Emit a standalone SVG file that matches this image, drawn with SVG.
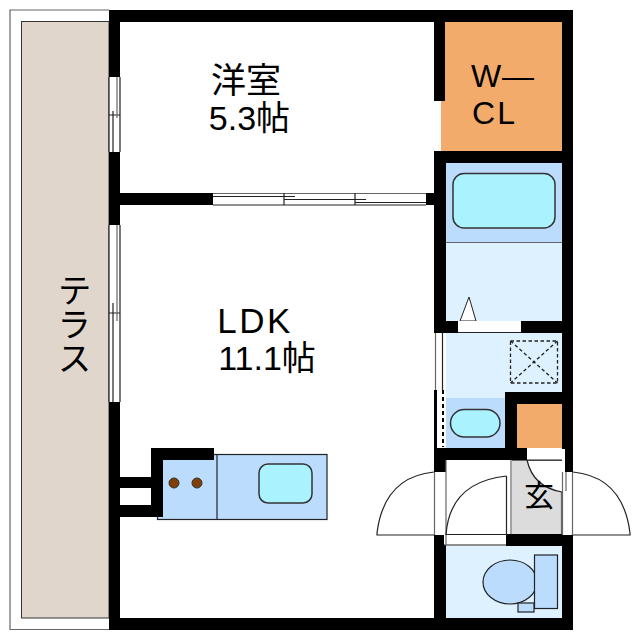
<svg xmlns="http://www.w3.org/2000/svg" width="640" height="640" viewBox="0 0 640 640">
<style>
.t{font-family:"Liberation Sans","Noto Sans CJK JP",sans-serif;font-size:35px;fill:#000;text-anchor:middle}
.w{fill:#000}
.l{fill:none;stroke:#222;stroke-width:1.2}
.g{fill:none;stroke:#666;stroke-width:1.2}
.blue{fill:#bbdcfd;stroke:#222;stroke-width:1.200}
.flat{fill:#bbdcfd}
.pale{fill:#ddf1fe}
.sink{fill:#a9f2fe;stroke:#333;stroke-width:1.5}
.orange{fill:#f2ab6b}
.open{fill:#fff}
</style>
<rect width="640" height="640" fill="#fff"/>
<g id="terrace">
<path d="M109 10H10V629.500H109" class="g"/>
<rect x="21.500" y="21.500" width="87.500" height="596.500" fill="#e0d6cc" stroke="#333" stroke-width="1"/>
<text class="t" x="72" y="273" style="writing-mode:vertical-rl;text-anchor:start;font-size:34px">テラス</text>
</g>
<g id="wic">
<path class="orange" d="M445 22H562V151H441V100H445Z"/>
<text class="t" x="503" y="86.500" style="font-family:'Liberation Sans',sans-serif;font-size:32px" letter-spacing="1">W—</text>
<text class="t" x="494.500" y="123.500" style="font-family:'Liberation Sans',sans-serif;font-size:32px" letter-spacing="2">CL</text>
</g>
<g id="bath">
<rect class="pale" x="446" y="242" width="116" height="79"/>
<rect class="flat" x="446" y="163" width="116" height="79"/>
<path class="g" d="M446 242.500H562"/>
<rect class="sink" x="453" y="173.500" width="102" height="54.500" rx="11"/>
<path d="M469 297L460 321H476Z" fill="#fff" stroke="#222"/>
</g>
<g id="wash">
<rect class="pale" x="446" y="333" width="116" height="59"/>
<rect class="pale" x="446" y="392" width="59" height="6"/>
<rect class="flat" x="446" y="398" width="59" height="50"/>
<rect class="sink" x="450.500" y="409.500" width="49.500" height="27.500" rx="13.700"/>
<g fill="none" stroke="#222" stroke-width="1.300" stroke-dasharray="3.500 2.500">
<rect x="510.500" y="341" width="47" height="42"/>
<path d="M510.500 341L557.500 383M557.500 341L510.500 383"/>
</g>
</g>
<g id="storage"><rect class="orange" x="517" y="404" width="45" height="44"/></g>
<g id="toilet">
<rect class="pale" x="446" y="546" width="116" height="72"/>
<ellipse class="blue" cx="510" cy="582" rx="27" ry="22"/>
<rect class="blue" x="534.500" y="555" width="23" height="53.500"/>
<rect class="blue" x="518" y="603" width="16" height="9"/>
</g>
<g id="kitchen">
<rect class="blue" x="157.500" y="454.500" width="169.500" height="65"/>
<path class="l" d="M217 454V519"/>
<circle cx="174" cy="483" r="5" fill="#803e08" stroke="#333"/>
<circle cx="197" cy="483" r="5" fill="#803e08" stroke="#333"/>
<rect class="sink" x="259" y="464" width="53" height="39" rx="9"/>
</g>
<g id="walls">
<rect class="w" x="109" y="10" width="464" height="12"/>
<rect class="w" x="109" y="10" width="11" height="620"/>
<rect class="w" x="109" y="618" width="464" height="12"/>
<rect class="w" x="562" y="10" width="11" height="450"/>
<rect class="w" x="565" y="460" width="8" height="12"/>
<rect class="w" x="562" y="535" width="11" height="95"/>
<rect class="w" x="434" y="22" width="11" height="79"/>
<rect class="w" x="434" y="151" width="139" height="12"/>
<rect class="w" x="434" y="151" width="12" height="182"/>
<rect class="w" x="120" y="193" width="93" height="12"/>
<rect class="w" x="426" y="193" width="8" height="12"/>
<rect class="w" x="434" y="321" width="139" height="12"/>
<rect class="w" x="505" y="392" width="68" height="12"/>
<rect class="w" x="505" y="392" width="12" height="56"/>
<rect class="w" x="434" y="448" width="93" height="12"/>
<rect class="w" x="434" y="390" width="3" height="58"/>
<rect class="w" x="434" y="448" width="12" height="24"/>
<rect class="w" x="434" y="535" width="12" height="95"/>
<rect class="w" x="506" y="534" width="67" height="12"/>
<rect class="w" x="120" y="477" width="31" height="11"/>
<rect class="w" x="120" y="505" width="43" height="12"/>
<rect class="w" x="151" y="448" width="12" height="69"/>
<rect class="w" x="151" y="448" width="63" height="12"/>
</g>
<g id="entrance">
<path d="M512 460H527Q533 487 562 492V534H512Z" fill="#dcdcdc"/>
<path class="g" d="M511 460V534M527 460.500H562M512 460.500H527M561.500 492V534"/>
<path class="l" d="M527 460Q533 487 562 492"/>
<text class="t" x="539" y="506" style="font-size:30px">玄</text>
</g>
<g id="openings">
<rect class="open" x="109" y="77" width="11" height="75"/>
<rect class="open" x="109" y="225" width="11" height="177"/>
<rect class="open" x="213" y="193" width="213" height="12"/>
<rect class="open" x="458" y="321" width="63" height="11"/>
<rect class="open" x="436" y="333" width="10" height="57"/>
<rect class="open" x="437" y="390" width="9" height="57"/>
<rect class="open" x="527" y="449" width="38" height="11"/>
<rect class="open" x="434" y="472" width="12" height="63"/>
<rect class="open" x="562" y="472" width="11" height="63"/>
<rect class="open" x="444" y="534" width="62" height="11"/>
</g>
<g id="fittings">
<path class="l" d="M109 77V152M120 77V152M113 111V152M109 115H120"/>
<path class="g" d="M117 77V118"/>
<path class="l" d="M109 225V402M120 225V402M113 303V402M109 313H120"/>
<path class="g" d="M117 225V321"/>
<path class="g" d="M213 193.500H426"/>
<path class="l" d="M213 205H426M213 196.500H295M284 199.500H366M355 202.500H426M284 193V205M355 193V205"/>
<path class="l" d="M442.500 333V390M458 332.500H521"/>
<path class="g" d="M435.500 333V390"/>
<path d="M443 390V447" stroke="#000" stroke-width="2" stroke-dasharray="4 3" fill="none"/>
<path class="l" d="M527 460H562M444 545H506"/>
<path class="g" d="M434.500 472V535M446 460V546M562.500 472V535M566 472V491M572.500 472V535"/>
<path class="l" d="M434 472Q384 477 377 533V535H434"/>
<path class="l" d="M573 472Q623 477 630 533V535H573"/>
<path class="l" d="M506.500 476V534.500H446Q450 482 506.500 476"/>
</g>
<g id="labels">
<text class="t" x="246" y="93">洋室</text>
<text class="t" x="249.500" y="130" style="font-size:34px">5.3帖</text>
<text class="t" x="255" y="333" letter-spacing="2.500">LDK</text>
<text class="t" x="267" y="370" style="font-size:34px">11.1帖</text>
</g>
</svg>
